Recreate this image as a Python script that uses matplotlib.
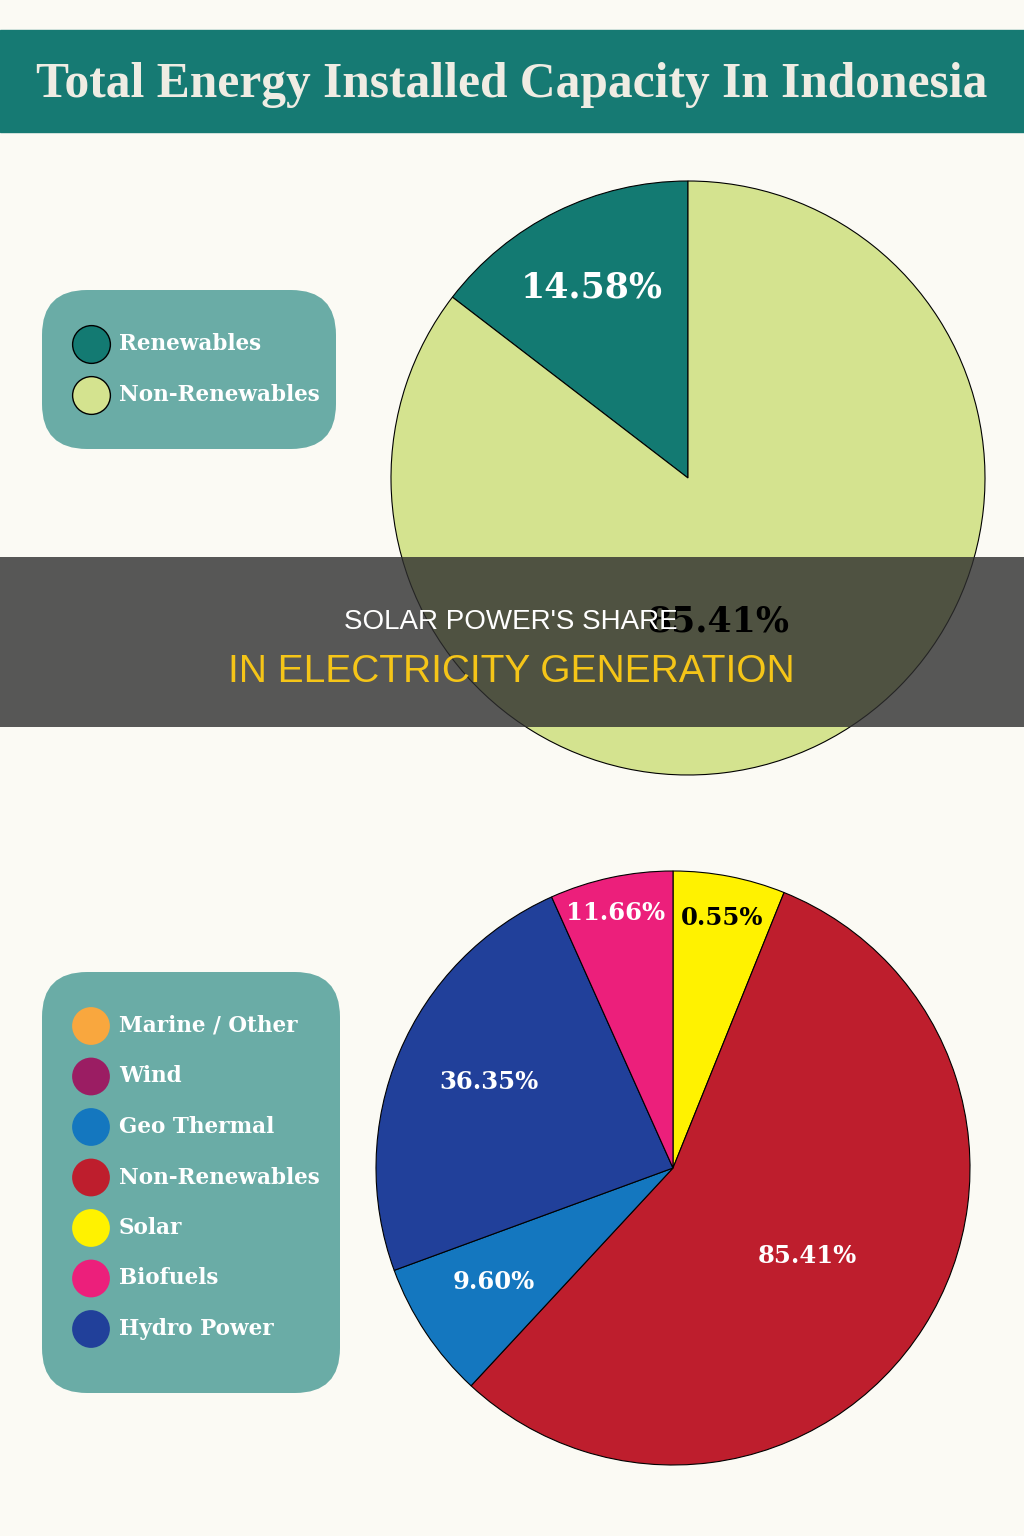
import matplotlib.pyplot as plt
from matplotlib.patches import FancyBboxPatch, Rectangle

W, H = 1024, 1536

# ---- data ----
title = "Total Energy Installed Capacity In Indonesia"

top_names = ["Renewables", "Non-Renewables"]
top_sizes = [14.58, 85.42]
top_labels = ["14.58%", "85.41%"]
top_colors = ["#137a72", "#d4e38f"]

# wedge order as drawn (clockwise from 12 o'clock)
bot_names = ["Solar", "Non-Renewables", "Geo Thermal", "Hydro Power", "Biofuels"]
bot_sizes = [6.1, 55.8, 7.5, 23.9, 6.7]
bot_labels = ["0.55%", "85.41%", "9.60%", "36.35%", "11.66%"]
bot_label_colors = ["black", "white", "white", "white", "white"]

legend_names = ["Marine / Other", "Wind", "Geo Thermal", "Non-Renewables",
                "Solar", "Biofuels", "Hydro Power"]
palette = {
    "Marine / Other": "#f9a73e",
    "Wind": "#9b1d63",
    "Geo Thermal": "#1477bf",
    "Non-Renewables": "#be1e2d",
    "Solar": "#fff200",
    "Biofuels": "#ec1f7b",
    "Hydro Power": "#21409a",
}

bg = "#fbfaf4"
teal = "#167a73"
box_col = "#6aaca6"
serif = ["DejaVu Serif"]


def Y(y):
    # image pixel row -> data y
    return H - y


fig = plt.figure(figsize=(W / 100, H / 100), dpi=100, facecolor=bg)
ax = fig.add_axes([0, 0, 1, 1])
ax.set_facecolor(bg)

# title banner
ax.add_patch(Rectangle((0, Y(132)), W, 102, color=teal, zorder=1))
t = ax.text(512, Y(97), title, ha="center", va="baseline", color="#efece3",
            fontsize=36, fontweight="bold", family=["Liberation Serif"], zorder=2)

# ---- top pie ----
ax.pie(top_sizes, colors=top_colors, startangle=90, counterclock=True,
       center=(688, Y(478)), radius=297,
       wedgeprops=dict(edgecolor="black", linewidth=0.8))
ax.text(592, Y(288), top_labels[0], ha="center", va="center", color="white",
        fontsize=25, fontweight="bold", family=serif)
# this label sits on top of the dark band in the reference
ax.text(718, Y(622), top_labels[1], ha="center", va="center", color="black",
        fontsize=25, fontweight="bold", family=serif, zorder=6.5)

# ---- bottom pie ----
ax.pie(bot_sizes, colors=[palette[n] for n in bot_names], startangle=90,
       counterclock=False, center=(673, Y(1168)), radius=297,
       wedgeprops=dict(edgecolor="black", linewidth=0.8))
bot_pos = [(722, 918), (807, 1256), (494, 1282), (489, 1082), (616, 913)]
for lab, c, (x, y) in zip(bot_labels, bot_label_colors, bot_pos):
    ax.text(x, Y(y), lab, ha="center", va="center", color=c,
            fontsize=17.5, fontweight="bold", family=serif)

# ---- legend boxes ----
def legend_box(x0, y0, x1, y1, names, colors, ys, edge):
    ax.add_patch(FancyBboxPatch((x0 + 45, Y(y1) + 45), x1 - x0 - 90, y1 - y0 - 90,
                                boxstyle="round,pad=45", fc=box_col, ec="none",
                                zorder=3))
    for n, c, y in zip(names, colors, ys):
        ax.scatter([91], [Y(y)], s=740, color=c, zorder=4,
                   edgecolors="black" if edge else "none", linewidths=1)
        ax.text(119, Y(y), n, ha="left", va="center", color="white",
                fontsize=15.5, fontweight="bold", family=serif, zorder=5)


legend_box(42, 290, 336, 449, top_names, top_colors, [344, 395], True)
legend_box(42, 972, 340, 1393, legend_names,
           [palette[n] for n in legend_names],
           [1026 + i * 50.5 for i in range(len(legend_names))], False)

# ---- overlay band ----
ax.add_patch(Rectangle((0, Y(727)), W, 170, color="#2e2e2e", alpha=0.8,
                       zorder=6, lw=0))
narrow = ["Liberation Sans Narrow", "Liberation Sans"]
ax.text(511, Y(629), "SOLAR POWER'S SHARE", ha="center", va="baseline",
        color="white", fontsize=20, family=narrow, zorder=7)
ax.text(511, Y(682), "IN ELECTRICITY GENERATION", ha="center", va="baseline",
        color="#f5c518", fontsize=28, family=narrow, zorder=7)

ax.set_xlim(0, W)
ax.set_ylim(0, H)
ax.set_aspect("equal")
ax.axis("off")

# fit title to banner width
fig.canvas.draw()
w = t.get_window_extent().width
t.set_fontsize(t.get_fontsize() * 952 / w)

fig.savefig("out.png", dpi=100, facecolor=bg)
